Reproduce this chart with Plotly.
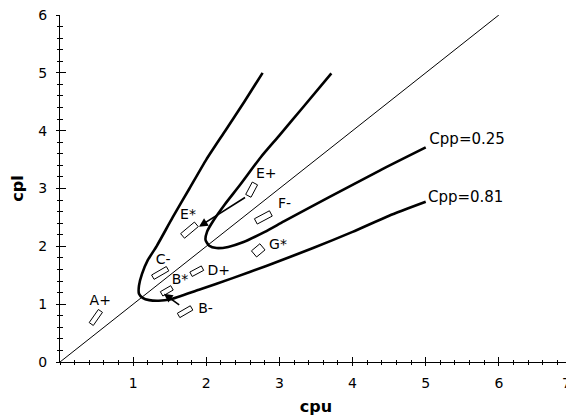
import math
import plotly.graph_objects as go

# ---------------- data ----------------
# reference (equal capability) line
diag_x = [0, 6]
diag_y = [0, 6]

# Cpp = 0.81 contour (upper branch -> vertex -> lower branch)
cpp081_x = [2.77, 2.52, 2.26, 2.00, 1.77, 1.54, 1.32, 1.20, 1.12, 1.08, 1.08, 1.13,
            1.22, 1.35, 1.50, 1.90, 2.36, 2.82, 3.46, 4.00, 4.50, 5.00]
cpp081_y = [5.00, 4.50, 4.00, 3.50, 3.00, 2.50, 2.00, 1.76, 1.52, 1.32, 1.18, 1.11,
            1.07, 1.06, 1.08, 1.25, 1.45, 1.66, 1.97, 2.25, 2.53, 2.77]

# Cpp = 0.25 contour
cpp025_x = [3.71, 3.32, 3.00, 2.75, 2.46, 2.25, 2.10, 2.01, 1.99, 2.04, 2.14, 2.30,
            2.50, 2.80, 3.06, 3.68, 4.37, 5.00]
cpp025_y = [4.99, 4.40, 3.92, 3.55, 3.06, 2.72, 2.45, 2.25, 2.11, 2.01, 1.97, 1.99,
            2.07, 2.25, 2.43, 2.85, 3.31, 3.71]

curve_names = ["Cpp=0.25", "Cpp=0.81"]
curve_label_x = [5.05, 5.03]
curve_label_y = [3.84, 2.84]

# estimate regions (centres) and their labels
point_names = ["A+", "B*", "B-", "C-", "D+", "E*", "E+", "F-", "G*"]
point_x = [0.49, 1.46, 1.71, 1.37, 1.87, 1.77, 2.62, 2.78, 2.71]
point_y = [0.77, 1.23, 0.87, 1.54, 1.57, 2.28, 2.98, 2.50, 1.93]
label_x = [0.55, 1.64, 1.99, 1.41, 2.17, 1.75, 2.82, 3.07, 2.98]
label_y = [1.04, 1.41, 0.90, 1.76, 1.57, 2.54, 3.24, 2.72, 2.01]

# arrows (tail -> head)
arrow_tail_x = [1.65, 2.55]
arrow_tail_y = [0.97, 2.86]
arrow_head_x = [1.42, 1.90]
arrow_head_y = [1.18, 2.34]

x_tick_vals = [1, 2, 3, 4, 5, 6, 7]
y_tick_vals = [0, 1, 2, 3, 4, 5, 6]

# ---------------- style ----------------
# the page body adds an 8 px margin, so the figure is offset by 8 px
W, H = 572, 408
ML, MR, MT, MB = 52, 8, 7, 54
X_RANGE = [0, 7]
Y_RANGE = [0, 6]
PX_X = (W - ML - MR) / (X_RANGE[1] - X_RANGE[0])
PX_Y = (H - MT - MB) / (Y_RANGE[1] - Y_RANGE[0])

# glyph shape of each estimate region (pixels / degrees)
glyph_len = [16, 12, 15, 17, 13, 18, 14, 17, 11]
glyph_wid = [5, 5, 5, 5, 5, 6, 6, 6, 8]
glyph_ang = [55, 30, 30, 30, 28, 40, 62, 28, 40]

FONT = "DejaVu Sans, Verdana, sans-serif"


def glyph(cx, cy, length, width, ang):
    a = math.radians(ang)
    ux, uy = math.cos(a), math.sin(a)
    vx, vy = -uy, ux
    pts = []
    for s, t in [(1, 1), (1, -1), (-1, -1), (-1, 1), (1, 1)]:
        px = s * ux * length / 2 + t * vx * width / 2
        py = s * uy * length / 2 + t * vy * width / 2
        pts.append((cx + px / PX_X, cy + py / PX_Y))
    return [p[0] for p in pts], [p[1] for p in pts]


fig = go.Figure()

fig.add_trace(go.Scatter(x=diag_x, y=diag_y, mode="lines",
                         line=dict(color="black", width=1), hoverinfo="skip"))
fig.add_trace(go.Scatter(x=cpp081_x, y=cpp081_y, mode="lines", name="Cpp=0.81",
                         line=dict(color="black", width=2.6, shape="spline", smoothing=0.6)))
fig.add_trace(go.Scatter(x=cpp025_x, y=cpp025_y, mode="lines", name="Cpp=0.25",
                         line=dict(color="black", width=2.6, shape="spline", smoothing=0.6)))

for i in range(len(point_names)):
    gx, gy = glyph(point_x[i], point_y[i], glyph_len[i], glyph_wid[i], glyph_ang[i])
    fig.add_trace(go.Scatter(x=gx, y=gy, mode="lines", fill="toself",
                             fillcolor="white", name=point_names[i],
                             line=dict(color="black", width=1)))

fig.add_trace(go.Scatter(x=label_x, y=label_y, text=point_names, mode="text",
                         textposition="middle center",
                         textfont=dict(family=FONT, size=14, color="black")))
fig.add_trace(go.Scatter(x=curve_label_x, y=curve_label_y, text=curve_names, mode="text",
                         textposition="middle right",
                         textfont=dict(family=FONT, size=15, color="black")))

for i in range(len(arrow_head_x)):
    fig.add_annotation(x=arrow_head_x[i], y=arrow_head_y[i],
                       ax=arrow_tail_x[i], ay=arrow_tail_y[i],
                       xref="x", yref="y", axref="x", ayref="y",
                       text="", showarrow=True, arrowhead=2, arrowsize=1.1,
                       arrowwidth=1.6, arrowcolor="black")

# last x tick label sits on the window edge: draw it right-aligned so it stays visible
x_tick_text = [str(v) for v in x_tick_vals[:-1]] + [""]
fig.add_annotation(x=x_tick_vals[-1], y=Y_RANGE[0], xref="x", yref="y",
                   text=str(x_tick_vals[-1]), showarrow=False,
                   xanchor="right", yanchor="middle", yshift=-21, xshift=1,
                   font=dict(family=FONT, size=14, color="black"))

# invisible trace for the overlay axes that give the crossing ticks
fig.add_trace(go.Scatter(x=[X_RANGE[0]], y=[Y_RANGE[0]], xaxis="x2", yaxis="y2",
                         mode="markers", marker=dict(opacity=0), hoverinfo="skip"))

fig.update_layout(
    width=W, height=H,
    margin=dict(l=ML, r=MR, t=MT, b=MB, pad=0),
    paper_bgcolor="white", plot_bgcolor="white",
    showlegend=False,
    font=dict(family=FONT, size=14, color="black"),
    xaxis=dict(range=X_RANGE, tickmode="array", tickvals=x_tick_vals,
               ticktext=x_tick_text,
               automargin=False, ticklabeloverflow="allow",
               showgrid=False, zeroline=False, showline=True, linecolor="black",
               linewidth=1, ticks="outside", ticklen=3, tickcolor="black",
               ticklabelstandoff=5,
               minor=dict(tickmode="linear", tick0=0, dtick=0.2, ticks="outside",
                          ticklen=2, tickcolor="black"),
               tickfont=dict(family=FONT, size=14),
               title=dict(text="cpu", standoff=12,
                          font=dict(family=FONT, size=16, weight="bold"))),
    yaxis=dict(range=Y_RANGE, tickmode="array", tickvals=y_tick_vals,
               automargin=False, ticklabeloverflow="allow",
               showgrid=False, zeroline=False, showline=True, linecolor="black",
               linewidth=1, ticks="outside", ticklen=3, tickcolor="black",
               ticklabelstandoff=6,
               minor=dict(tickmode="linear", tick0=0, dtick=0.2, ticks="outside",
                          ticklen=2, tickcolor="black"),
               tickfont=dict(family=FONT, size=14),
               title=dict(text="cpl", standoff=17,
                          font=dict(family=FONT, size=16, weight="bold"))),
    xaxis2=dict(range=X_RANGE, overlaying="x", anchor="y2", side="bottom",
                automargin=False,
                tickmode="linear", tick0=0, dtick=1, ticks="inside", ticklen=5,
                tickcolor="black", showticklabels=False, showgrid=False,
                zeroline=False, showline=False,
                minor=dict(tickmode="linear", tick0=0, dtick=0.2, ticks="inside",
                           ticklen=2, tickcolor="black")),
    yaxis2=dict(range=Y_RANGE, overlaying="y", anchor="x2", side="left",
                automargin=False,
                tickmode="linear", tick0=0, dtick=1, ticks="inside", ticklen=6,
                tickcolor="black", showticklabels=False, showgrid=False,
                zeroline=False, showline=False,
                minor=dict(tickmode="linear", tick0=0, dtick=0.2, ticks="inside",
                           ticklen=3, tickcolor="black")),
)

fig.write_html("out.html")
